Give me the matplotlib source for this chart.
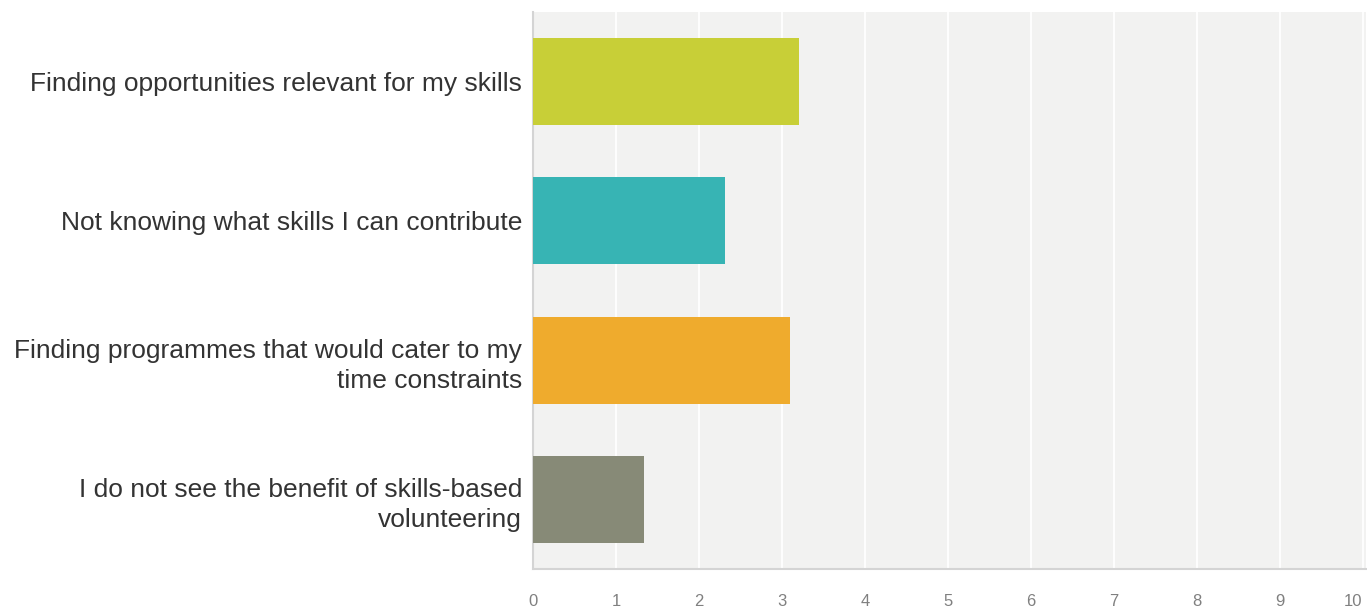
import matplotlib
matplotlib.use("Agg")
import matplotlib.pyplot as plt

plt.rcParams['font.family'] = ['Liberation Sans', 'DejaVu Sans']

labels = [
    "Finding opportunities relevant for my skills",
    "Not knowing what skills I can contribute",
    "Finding programmes that would cater to my\ntime constraints",
    "I do not see the benefit of skills-based\nvolunteering",
]
values = [3.2, 2.31, 3.1, 1.34]
colors = ["#c8cf37", "#37b4b4", "#efab2d", "#878a77"]
ticks = list(range(0, 11))

fig = plt.figure(figsize=(13.67, 6.10), dpi=100)
ax = fig.add_axes([0.39, 0.0672, 0.6093, 0.9131])
ax.set_facecolor("#f2f2f1")

ypos = list(range(len(labels)))
ax.barh(ypos, values, height=0.626, color=colors, zorder=3)

ax.set_xlim(0, 10.04)
ax.set_ylim(3.5, -0.5)
ax.set_xticks(ticks)
ax.set_xticklabels([str(t) for t in ticks], color="#808080", fontsize=12)
ax.get_xticklabels()[-1].set_horizontalalignment("right")
ax.set_yticks(ypos)
ax.set_yticklabels(labels, color="#333333", fontsize=19, linespacing=1.32)
ax.tick_params(axis="x", length=0, pad=18)
ax.tick_params(axis="y", length=0, pad=8)
ax.grid(axis="x", color="white", linewidth=1.3, zorder=1)

for s in ["top", "right"]:
    ax.spines[s].set_visible(False)
ax.spines["left"].set_color("#d4d4d4")
ax.spines["bottom"].set_color("#d4d4d4")
ax.spines["left"].set_linewidth(1.5)
ax.spines["bottom"].set_linewidth(1.5)

fig.savefig("out.png", dpi=100, facecolor="white")
